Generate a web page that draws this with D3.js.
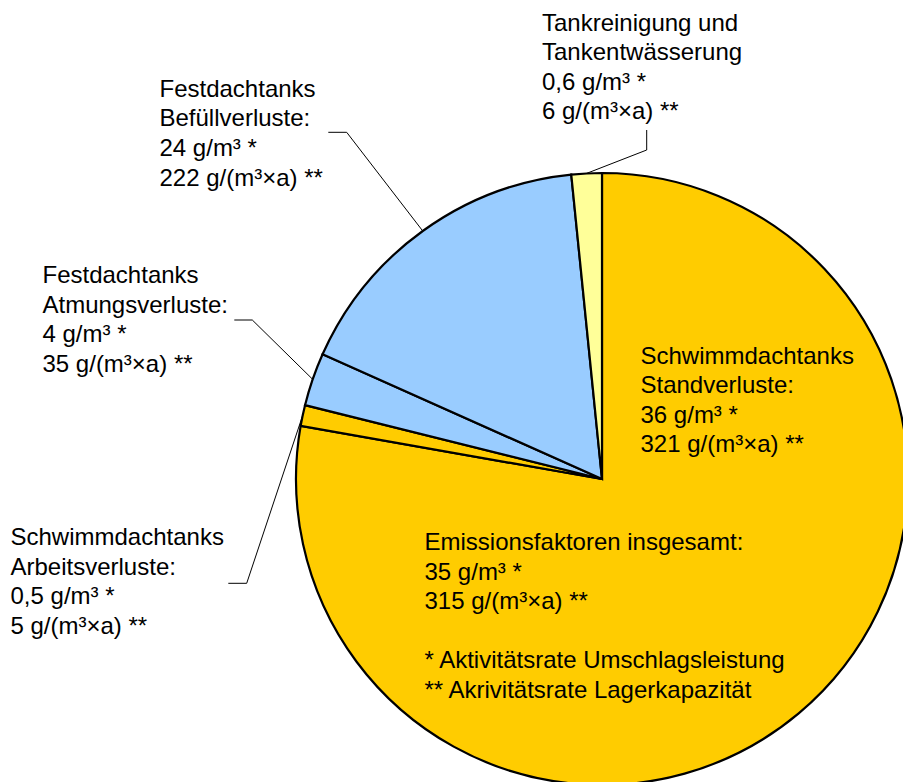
<!DOCTYPE html>
<html>
<head>
<meta charset="utf-8">
<script src="https://cdn.jsdelivr.net/npm/d3@7"></script>
<style>
  body { margin: 0; background: #fff; }
  svg { display: block; }
  .slice { stroke: #000; stroke-width: 2.2; stroke-linejoin: miter; }
  .leader { fill: none; stroke: #000; stroke-width: 1; }
  .label { font-family: "Liberation Sans", Arial, sans-serif; font-size: 24px; fill: #000; }
</style>
</head>
<body>
<svg id="chart"></svg>
<script>
// ── Data ──
const categories = [
  "Schwimmdachtanks Standverluste",
  "Schwimmdachtanks Arbeitsverluste",
  "Festdachtanks Atmungsverluste",
  "Festdachtanks Befüllverluste",
  "Tankreinigung und Tankentwässerung"
];
const shares = [77.7, 1.1, 2.8, 16.7, 1.6];
const sliceColors = ["#ffcc00", "#ffcc00", "#99ccff", "#99ccff", "#ffff99"];

const labelLines = [
  ["Schwimmdachtanks", "Standverluste:", "36 g/m³ *", "321 g/(m³×a) **"],
  ["Schwimmdachtanks", "Arbeitsverluste:", "0,5 g/m³ *", "5 g/(m³×a) **"],
  ["Festdachtanks", "Atmungsverluste:", "4 g/m³ *", "35 g/(m³×a) **"],
  ["Festdachtanks", "Befüllverluste:", "24 g/m³ *", "222 g/(m³×a) **"],
  ["Tankreinigung und", "Tankentwässerung", "0,6 g/m³ *", "6 g/(m³×a) **"]
];
const totalLines = [
  "Emissionsfaktoren insgesamt:", "35 g/m³ *", "315 g/(m³×a) **", "",
  "* Aktivitätsrate Umschlagsleistung", "** Akrivitätsrate Lagerkapazität"
];

// ── Layout ──
const width = 903, height = 782;
const cx = 602, cy = 479, radius = 306;
const lineStep = 29.6;

// label anchor (x, first baseline) and leader elbow / end per slice (null = inside)
const labelLayout = [
  { x: 640.5, y: 363.5, leader: null },
  { x: 10.5,  y: 545,   leader: [[246.7, 583.3], [228.3, 583.3]] },
  { x: 42.5,  y: 283,   leader: [[252.3, 320],   [234.3, 320]] },
  { x: 159.5, y: 96.7,  leader: [[346.7, 132.3], [328.3, 132.3]] },
  { x: 542,   y: 30.6,  leader: [[646.7, 150],   [646.7, 130]] }
];

const svg = d3.select("#chart")
  .attr("width", width)
  .attr("height", height);

// ── Pie ──
const pie = d3.pie().sort(null).value(d => d);
const arcs = pie(shares);
const arc = d3.arc().innerRadius(0).outerRadius(radius);

const pieG = svg.append("g")
  .attr("transform", `translate(${cx},${cy})`);

pieG.selectAll(".slice")
  .data(arcs)
  .join("path")
  .attr("class", "slice")
  .attr("fill", (d, i) => sliceColors[i])
  .attr("d", arc);

// ── Leader lines: from mid angle on the rim to the label ──
arcs.forEach((d, i) => {
  const lay = labelLayout[i];
  if (!lay.leader) return;
  const a = (d.startAngle + d.endAngle) / 2;
  const start = [cx + radius * Math.sin(a), cy - radius * Math.cos(a)];
  svg.append("polyline")
    .attr("class", "leader")
    .attr("points", [start, ...lay.leader].map(p => p.join(",")).join(" "));
});

// ── Labels ──
labelLines.forEach((lines, i) => {
  const lay = labelLayout[i];
  const t = svg.append("text")
    .attr("class", "label")
    .attr("x", lay.x)
    .attr("y", lay.y)
    .attr("title", categories[i]);
  lines.forEach((s, j) => {
    t.append("tspan")
      .attr("x", lay.x)
      .attr("y", lay.y + j * lineStep)
      .text(s);
  });
});

// ── Total / footnote block inside the big slice ──
const totalText = svg.append("text")
  .attr("class", "label")
  .attr("x", 424.5)
  .attr("y", 550);

totalLines.forEach((s, j) => {
  if (!s) return;
  totalText.append("tspan")
    .attr("x", 424.5)
    .attr("y", 550 + j * lineStep)
    .text(s);
});
</script>
</body>
</html>
